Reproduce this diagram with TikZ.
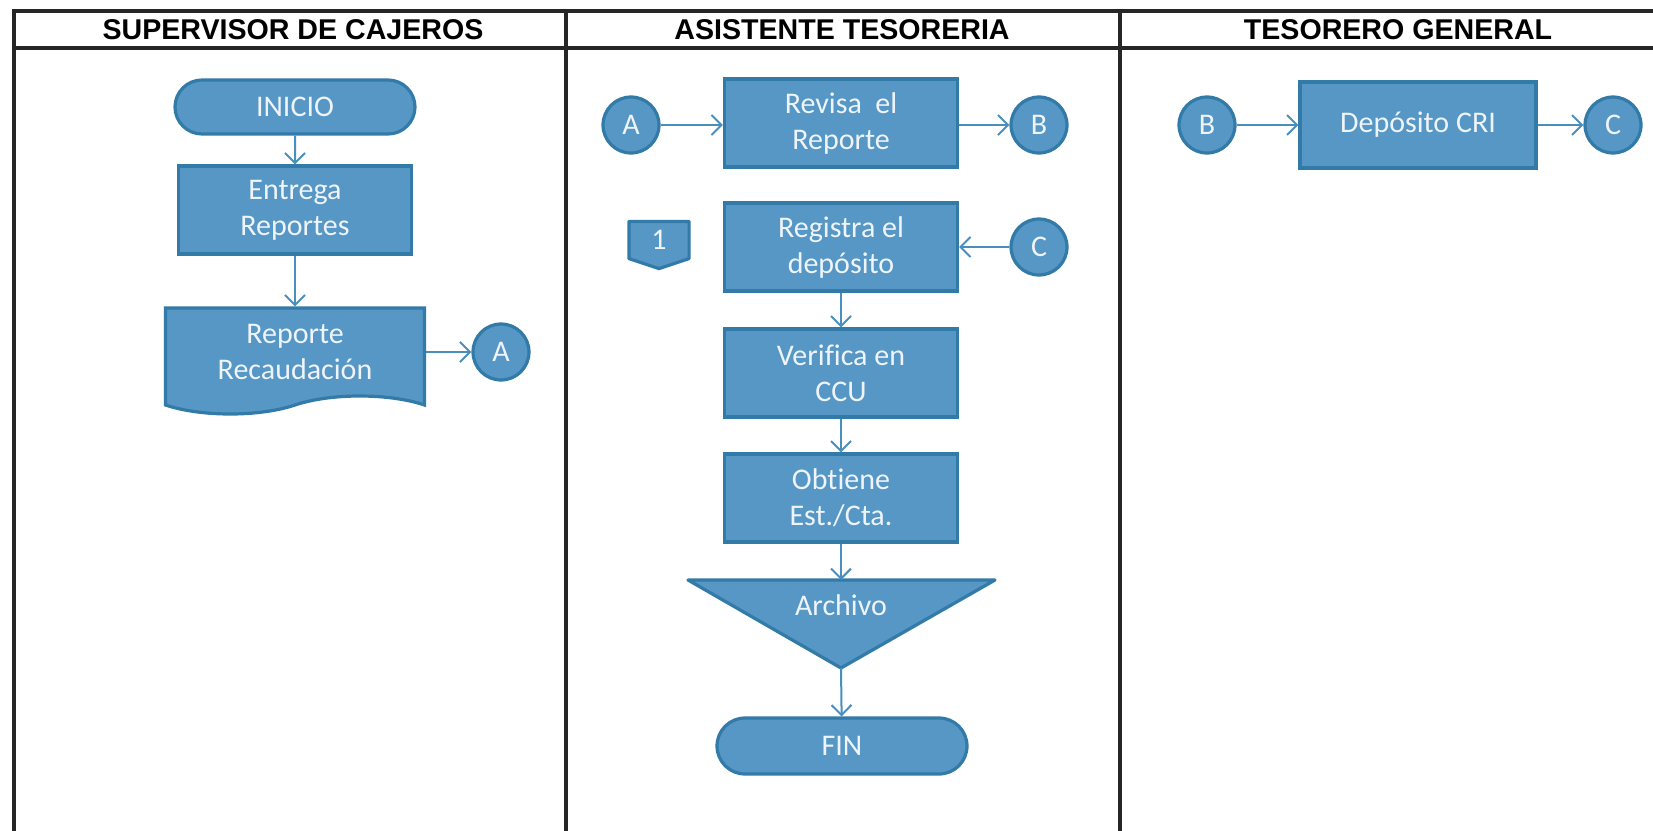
\documentclass[tikz,border=0pt]{standalone}
\usepackage{fontspec}
\setmainfont{Carlito}[Ligatures=NoCommon]
\newfontfamily\hdrfont{Liberation Sans}
\usetikzlibrary{arrows.meta,shapes.misc,shapes.symbols,backgrounds}
\definecolor{boxfill}{RGB}{86,151,197}
\definecolor{boxline}{RGB}{50,122,168}
\definecolor{flechacol}{RGB}{72,142,190}
\definecolor{boxtext}{RGB}{238,244,250}
\tikzset{
  caja/.style={draw=boxline, fill=boxfill, line width=1.6pt, text=boxtext,
    font=\fontsize{15}{18}\selectfont, align=center, inner sep=0pt},
  proceso/.style={caja, rectangle, minimum width=116.5pt, minimum height=44pt},
  terminal/.style={caja, rounded rectangle, minimum width=120pt, minimum height=27pt},
  conector/.style={caja, circle, minimum size=28pt},
  documento/.style={caja, tape, tape bend top=none, tape bend bottom=in and out,
    tape bend height=9pt, minimum width=129.5pt, minimum height=53pt},
  pagina/.style={caja, draw=none, fill=none, minimum width=28.5pt, minimum height=17pt},
  forma/.style={draw=boxline, fill=boxfill, line width=1.6pt, line join=round},
  flecha/.style={draw=flechacol, line width=1pt, -{Straight Barb[length=5pt,width=10pt]}},
  titulo/.style={font=\hdrfont\bfseries\fontsize{14.3}{16}\selectfont},
  linea/.style={line width=2pt, black!85, line cap=rect}
}
\begin{document}
\begin{tikzpicture}[x=0.5pt,y=-0.5pt]
\useasboundingbox (0,0) rectangle (1653,830);
\draw[linea] (14,11) -- (1653,11) (14,48) -- (1653,48);
\draw[linea] (14,11) -- (14,830) (566,11) -- (566,830) (1120,11) -- (1120,830);
\node[titulo] (col1) at (293,30) {SUPERVISOR DE CAJEROS};
\node[titulo] (col2) at (842,30) {ASISTENTE TESORERIA};
\node[titulo] (col3) at (1398,30) {TESORERO GENERAL};

% supervisor de cajeros
\node[terminal] (inicio) at (295,107) {INICIO};
\node[proceso] (entrega) at (295,210) {Entrega\\Reportes};
\node[documento] (reporte) at (295,352) {Reporte\\Recaudación};
\node[conector] (a1) at (501,352) {A};
\draw[flecha] (inicio) -- (entrega);
\draw[flecha] (entrega) -- (reporte);
\draw[flecha] (reporte.east |- a1) -- (a1);

% asistente tesoreria
\node[conector] (a2) at (631,125) {A};
\node[proceso] (revisa) at (841,123) {Revisa\ \ el\\Reporte};
\node[conector] (b2) at (1039,125) {B};
\node[pagina] (pag) at (659,240) {1};
\begin{scope}[on background layer]
\filldraw[forma] (pag.north west) -- (pag.north east) -- (pag.south east)
  -- ([yshift=-5pt]pag.south) -- (pag.south west) -- cycle;
\end{scope}
\node[proceso] (registra) at (841,247) {Registra el\\depósito};
\node[conector] (c2) at (1039,247) {C};
\node[proceso] (verifica) at (841,373) {Verifica en\\CCU};
\node[proceso] (obtiene) at (841,498) {Obtiene\\Est./Cta.};
\coordinate (arcsup) at (841,580);
\coordinate (arcinf) at (841,668);
\filldraw[forma] (688,580) -- (995,580) -- (arcinf) -- cycle;
\node[caja, draw=none, fill=none] (archivo) at (841,605) {Archivo};
\node[terminal, minimum width=125pt, minimum height=28pt] (fin) at (842,746) {FIN};
\draw[flecha] (a2) -- (a2 -| revisa.west);
\draw[flecha] (revisa.east |- b2) -- (b2);
\draw[flecha] (c2) -- (c2 -| registra.east);
\draw[flecha] (registra) -- (verifica);
\draw[flecha] (verifica) -- (obtiene);
\draw[flecha] (obtiene) -- (arcsup);
\draw[flecha] (arcinf) -- (fin);

% tesorero general
\node[conector] (b3) at (1207,125) {B};
\node[proceso, minimum width=118pt, minimum height=43pt] (deposito) at (1418,125) {Depósito CRI};
\node[conector] (c3) at (1613,125) {C};
\draw[flecha] (b3) -- (deposito);
\draw[flecha] (deposito) -- (c3);
\end{tikzpicture}
\end{document}
